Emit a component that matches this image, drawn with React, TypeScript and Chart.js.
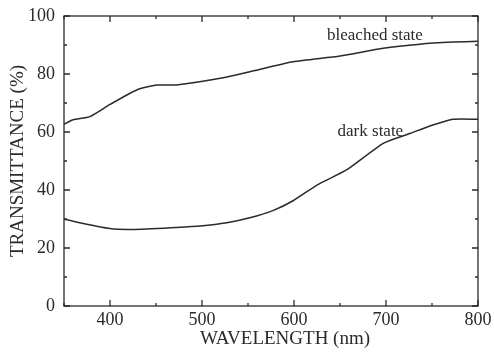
import React, { useEffect, useRef } from "react";
import { Chart, registerables } from "chart.js";

Chart.register(...registerables);

const bleachedWavelength = [350, 360, 378, 400, 429, 451, 472, 523, 552, 599, 650, 697, 737, 773, 800];
const bleachedValues = [62.7, 64.2, 65.3, 69.5, 74.5, 76.2, 76.2, 78.7, 80.8, 84.2, 86.2, 88.9, 90.3, 91.0, 91.3];
const darkWavelength = [350, 400, 425, 472, 498, 527, 552, 577, 599, 625, 657, 697, 726, 751, 773, 800];
const darkValues = [29.9, 26.7, 26.4, 27.1, 27.6, 28.7, 30.4, 32.9, 36.3, 41.7, 46.9, 56.1, 59.5, 62.4, 64.4, 64.4];
const xTicks = [400, 500, 600, 700, 800];
const xMinorTicks = [350, 450, 550, 650, 750];
const yTicks = [0, 20, 40, 60, 80, 100];
const yMinorTicks = [10, 30, 50, 70, 90];
const xTitle = "WAVELENGTH (nm)";
const yTitle = "TRANSMITTANCE (%)";
const annotations = [
  { text: "bleached state", x: 688, y: 93.2 },
  { text: "dark state", x: 683, y: 60.2 },
];

const INK = "#2a2a2a";
const SERIF = "'Liberation Serif', 'DejaVu Serif', serif";

const framePlugin = {
  id: "frame",
  afterDatasetsDraw(chart: any) {
    const { ctx, chartArea: a, scales } = chart;
    const xs = scales.x;
    const ys = scales.y;
    ctx.save();
    ctx.strokeStyle = INK;
    ctx.lineWidth = 1.3;
    ctx.strokeRect(a.left, a.top, a.right - a.left, a.bottom - a.top);
    const tick = (vals: number[], len: number) => {
      vals.forEach((v) => {
        const px = xs.getPixelForValue(v);
        ctx.beginPath();
        ctx.moveTo(px, a.bottom);
        ctx.lineTo(px, a.bottom - len);
        ctx.moveTo(px, a.top);
        ctx.lineTo(px, a.top + len);
        ctx.stroke();
      });
    };
    const ytick = (vals: number[], len: number) => {
      vals.forEach((v) => {
        const py = ys.getPixelForValue(v);
        ctx.beginPath();
        ctx.moveTo(a.left, py);
        ctx.lineTo(a.left + len, py);
        ctx.moveTo(a.right, py);
        ctx.lineTo(a.right - len, py);
        ctx.stroke();
      });
    };
    tick(xTicks, 6);
    tick(xMinorTicks, 3);
    ytick(yTicks, 6);
    ytick(yMinorTicks, 3);
    ctx.fillStyle = INK;
    ctx.textAlign = "center";
    ctx.textBaseline = "middle";
    ctx.font = `17px ${SERIF}`;
    annotations.forEach((an) => {
      ctx.fillText(an.text, xs.getPixelForValue(an.x), ys.getPixelForValue(an.y));
    });
    ctx.font = `19px ${SERIF}`;
    ctx.fillText(xTitle, (a.left + a.right) / 2 + 14, a.bottom + 33);
    ctx.restore();
  },
};

export default function App() {
  const ref = useRef<HTMLCanvasElement>(null);
  useEffect(() => {
    document.body.style.margin = "0";
    const chart = new Chart(ref.current!, {
      type: "line",
      data: {
        datasets: [
          {
            label: "bleached state",
            data: bleachedWavelength.map((x, i) => ({ x, y: bleachedValues[i] })),
            borderColor: INK,
            borderWidth: 1.5,
            pointRadius: 0,
            tension: 0.2,
          },
          {
            label: "dark state",
            data: darkWavelength.map((x, i) => ({ x, y: darkValues[i] })),
            borderColor: INK,
            borderWidth: 1.5,
            pointRadius: 0,
            tension: 0.2,
          },
        ],
      },
      options: {
        animation: false,
        responsive: false,
        layout: { padding: { top: 16, right: 16, left: 0, bottom: 0 } },
        plugins: { legend: { display: false }, tooltip: { enabled: false } },
        scales: {
          x: {
            type: "linear",
            min: 350,
            max: 800,
            afterBuildTicks: (s: any) => {
              s.ticks = xTicks.map((v) => ({ value: v }));
            },
            afterFit: (s: any) => {
              s.height = 50;
              s.paddingLeft = 0;
              s.paddingRight = 0;
            },
            grid: { display: false, drawTicks: false, tickLength: 0 },
            border: { display: false },
            ticks: { color: INK, font: { family: SERIF, size: 18 }, padding: 3, maxRotation: 0 },
          },
          y: {
            min: 0,
            max: 100,
            afterBuildTicks: (s: any) => {
              s.ticks = yTicks.map((v) => ({ value: v }));
            },
            afterFit: (s: any) => {
              s.width = 64;
              s.paddingTop = 0;
              s.paddingBottom = 0;
            },
            grid: { display: false, drawTicks: false, tickLength: 0 },
            border: { display: false },
            ticks: { color: INK, font: { family: SERIF, size: 18 }, padding: 9 },
            title: {
              display: true,
              text: yTitle,
              color: INK,
              font: { family: SERIF, size: 19 },
              padding: { top: 7, bottom: 0 },
            },
          },
        },
      },
      plugins: [framePlugin],
    });
    return () => chart.destroy();
  }, []);
  return (
    <div style={{ position: "fixed", left: 0, top: 0, width: 494, height: 356, background: "#fff" }}>
      <canvas ref={ref} width={494} height={356} style={{ width: 494, height: 356 }} />
    </div>
  );
}
